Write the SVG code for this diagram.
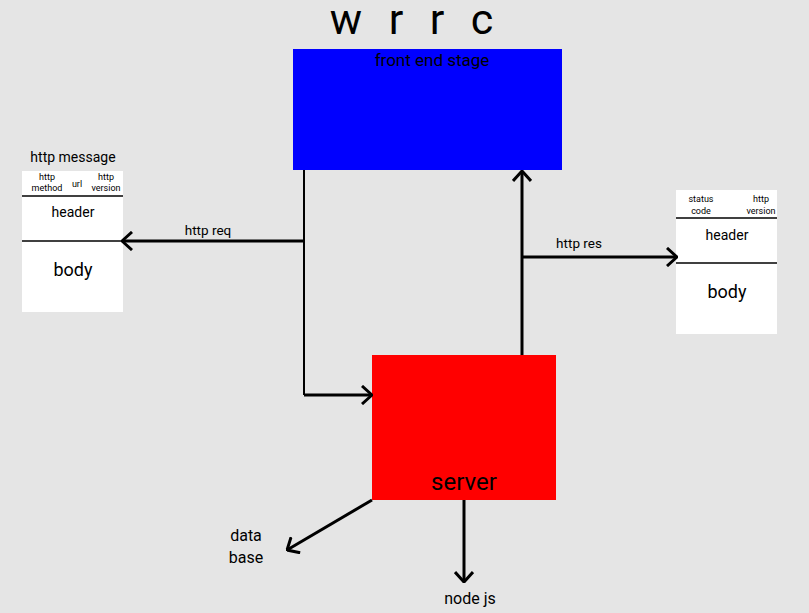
<svg xmlns="http://www.w3.org/2000/svg" width="809" height="613" viewBox="0 0 809 613">
<defs>
<style>
text{font-family:Roboto,"Liberation Sans",sans-serif;fill:#000;text-anchor:middle}
.ln{stroke:#000;fill:none;stroke-width:3}
.thin{stroke:#000;fill:none;stroke-width:2}
.sep{stroke:#000;stroke-width:1.5}
.sm{font-size:9px}
.md{font-size:14px}
.lg{font-size:18px}
.tt{font-size:43px}
</style>
<marker id="ah" viewBox="0 0 12 20" refX="11" refY="10" markerWidth="12" markerHeight="20" markerUnits="userSpaceOnUse" orient="auto">
<path d="M1,1 L11,10 L1,19" fill="none" stroke="#000" stroke-width="3"/>
</marker>
</defs>
<rect width="809" height="613" fill="#e5e5e5"/>
<g id="title">
<text x="346" y="34" class="tt">w</text>
<text x="396" y="34" class="tt">r</text>
<text x="437" y="34" class="tt">r</text>
<text x="482" y="34" class="tt">c</text>
</g>
<g id="front">
<rect x="293" y="49" width="269" height="121" fill="#0000ff"/>
<text x="432" y="66" style="font-size:17px">front end stage</text>
</g>
<g id="server">
<rect x="372" y="355" width="184" height="145" fill="#ff0000"/>
<text x="464" y="490" style="font-size:24px">server</text>
</g>
<g id="req-msg">
<text x="73" y="162" style="font-size:14px">http message</text>
<rect x="22" y="171" width="101" height="141" fill="#fff"/>
<text x="47" y="180" class="sm">http</text>
<text x="47" y="191" class="sm">method</text>
<text x="77" y="187" class="sm">url</text>
<text x="106" y="180" class="sm">http</text>
<text x="106" y="191" class="sm">version</text>
<line x1="22" y1="196" x2="123" y2="196" class="sep"/>
<text x="73" y="217" class="md">header</text>
<line x1="22" y1="241" x2="123" y2="241" class="sep"/>
<text x="73" y="276" class="lg">body</text>
</g>
<g id="res-msg">
<rect x="676" y="190" width="101" height="144" fill="#fff"/>
<text x="701" y="202" class="sm">status</text>
<text x="701" y="214" class="sm">code</text>
<text x="761" y="202" class="sm">http</text>
<text x="761" y="214" class="sm">version</text>
<line x1="676" y1="218" x2="777" y2="218" class="sep"/>
<text x="727" y="240" class="md">header</text>
<line x1="676" y1="263" x2="777" y2="263" class="sep"/>
<text x="727" y="298" class="lg">body</text>
</g>
<g id="database">
<text x="246" y="541" style="font-size:16px">data</text>
<text x="246" y="563" style="font-size:16px">base</text>
</g>
<g id="nodejs">
<text x="470" y="604" style="font-size:16px">node js</text>
</g>
<g id="connectors">
<polyline points="304,170 304,395" class="thin"/>
<line x1="304" y1="395" x2="372" y2="395" class="ln" marker-end="url(#ah)"/>
<line x1="304" y1="241" x2="122" y2="241" class="ln" marker-end="url(#ah)"/>
<text x="208" y="235" style="font-size:13.5px">http req</text>
<line x1="522" y1="355" x2="522" y2="171" class="ln" marker-end="url(#ah)"/>
<line x1="522" y1="257" x2="677" y2="257" class="ln" marker-end="url(#ah)"/>
<text x="579" y="248" style="font-size:13.5px">http res</text>
<line x1="372" y1="500" x2="287" y2="550" class="ln" marker-end="url(#ah)"/>
<line x1="464" y1="500" x2="464" y2="582" class="ln" marker-end="url(#ah)"/>
</g>
</svg>
